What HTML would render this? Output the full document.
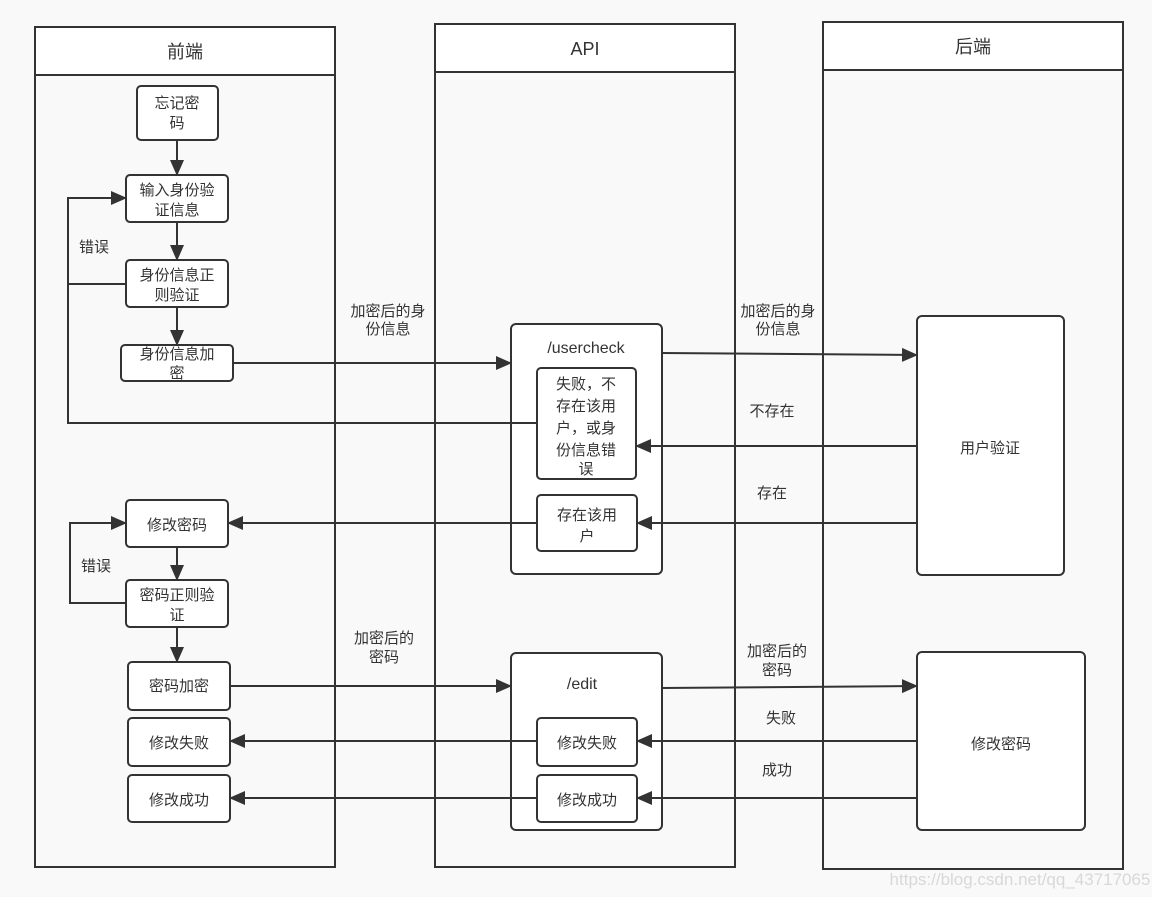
<!DOCTYPE html>
<html><head><meta charset="utf-8"><style>
html,body{margin:0;padding:0;background:#f9f9f9;}
svg{display:block;}
text{font-family:"Liberation Sans","Noto Sans CJK SC",sans-serif;font-size:15px;fill:#333;text-anchor:middle;}
text.h{font-size:18px;}
text.w{font-size:17px;fill:#d8d8d8;}
</style></head><body>
<svg width="1152" height="897" viewBox="0 0 1152 897" xmlns="http://www.w3.org/2000/svg">
<defs><marker id="a" markerWidth="16" markerHeight="14" refX="15" refY="7" orient="auto" markerUnits="userSpaceOnUse"><path d="M0,0 L16,7 L0,14 z" fill="#333"/></marker></defs>
<g fill="#f9f9f9" stroke="#333" stroke-width="2">
<rect x="35" y="27" width="300" height="840"/><rect x="35" y="27" width="300" height="48" fill="#fff"/>
<rect x="435" y="24" width="300" height="843"/><rect x="435" y="24" width="300" height="48" fill="#fff"/>
<rect x="823" y="22" width="300" height="847"/><rect x="823" y="22" width="300" height="48" fill="#fff"/>
</g>
<text class="h" x="185" y="58">前端</text>
<text class="h" x="585" y="55">API</text>
<text class="h" x="973" y="53">后端</text>
<g fill="#fff" stroke="#333" stroke-width="2">
<rect x="137" y="86" width="81" height="54" rx="4"/>
<rect x="126" y="175" width="102" height="47" rx="4"/>
<rect x="126" y="260" width="102" height="47" rx="4"/>
<rect x="121" y="345" width="112" height="36" rx="4"/>
<rect x="126" y="500" width="102" height="47" rx="4"/>
<rect x="126" y="580" width="102" height="47" rx="4"/>
<rect x="128" y="662" width="102" height="48" rx="4"/>
<rect x="128" y="718" width="102" height="48" rx="4"/>
<rect x="128" y="775" width="102" height="47" rx="4"/>
<rect x="511" y="324" width="151" height="250" rx="5"/>
<rect x="537" y="368" width="99" height="111" rx="4"/>
<rect x="537" y="495" width="100" height="56" rx="4"/>
<rect x="511" y="653" width="151" height="177" rx="5"/>
<rect x="537" y="718" width="100" height="48" rx="4"/>
<rect x="537" y="775" width="100" height="47" rx="4"/>
<rect x="917" y="316" width="147" height="259" rx="5"/>
<rect x="917" y="652" width="168" height="178" rx="5"/>
</g>
<g fill="none" stroke="#333" stroke-width="2">
<line x1="177" y1="140" x2="177" y2="175" marker-end="url(#a)"/>
<line x1="177" y1="222" x2="177" y2="260" marker-end="url(#a)"/>
<line x1="177" y1="307" x2="177" y2="345" marker-end="url(#a)"/>
<polyline points="126,284 68,284"/>
<polyline points="537,423 68,423 68,198 126,198" marker-end="url(#a)"/>
<polyline points="233,363 511,363" marker-end="url(#a)"/>
<polyline points="662,353 917,355" marker-end="url(#a)"/>
<polyline points="917,446 636,446" marker-end="url(#a)"/>
<polyline points="917,523 637,523" marker-end="url(#a)"/>
<polyline points="537,523 228,523" marker-end="url(#a)"/>
<line x1="177" y1="547" x2="177" y2="580" marker-end="url(#a)"/>
<polyline points="126,603 70,603 70,523 126,523" marker-end="url(#a)"/>
<line x1="177" y1="627" x2="177" y2="662" marker-end="url(#a)"/>
<polyline points="230,686 511,686" marker-end="url(#a)"/>
<polyline points="662,688 917,686" marker-end="url(#a)"/>
<polyline points="917,741 637,741" marker-end="url(#a)"/>
<polyline points="537,741 230,741" marker-end="url(#a)"/>
<polyline points="917,798 637,798" marker-end="url(#a)"/>
<polyline points="537,798 230,798" marker-end="url(#a)"/>
</g>
<text x="177" y="108">忘记密</text><text x="177" y="128">码</text>
<text x="177" y="195">输入身份验</text><text x="177" y="215">证信息</text>
<text x="177" y="280">身份信息正</text><text x="177" y="300">则验证</text>
<text x="177" y="359">身份信息加</text><text x="177" y="378">密</text>
<text x="177" y="530">修改密码</text>
<text x="177" y="600">密码正则验</text><text x="177" y="620">证</text>
<text x="179" y="691">密码加密</text>
<text x="179" y="748">修改失败</text>
<text x="179" y="805">修改成功</text>
<text x="586" y="353" style="font-size:16px">/usercheck</text>
<text x="586" y="389">失败，不</text><text x="586" y="411">存在该用</text><text x="586" y="433">户，或身</text><text x="586" y="455">份信息错</text><text x="586" y="474">误</text>
<text x="587" y="520">存在该用</text><text x="587" y="541">户</text>
<text x="582" y="689" style="font-size:16px">/edit</text>
<text x="587" y="748">修改失败</text>
<text x="587" y="805">修改成功</text>
<text x="990" y="453">用户验证</text>
<text x="1001" y="749">修改密码</text>
<text x="94" y="252">错误</text>
<text x="96" y="571">错误</text>
<text x="388" y="316">加密后的身</text><text x="388" y="334">份信息</text>
<text x="778" y="316">加密后的身</text><text x="778" y="334">份信息</text>
<text x="772" y="416">不存在</text>
<text x="772" y="498">存在</text>
<text x="384" y="643">加密后的</text><text x="384" y="662">密码</text>
<text x="777" y="656">加密后的</text><text x="777" y="675">密码</text>
<text x="781" y="723">失败</text>
<text x="777" y="775">成功</text>
<text class="w" x="1020" y="885">https://blog.csdn.net/qq_43717065</text>
</svg>
</body></html>
